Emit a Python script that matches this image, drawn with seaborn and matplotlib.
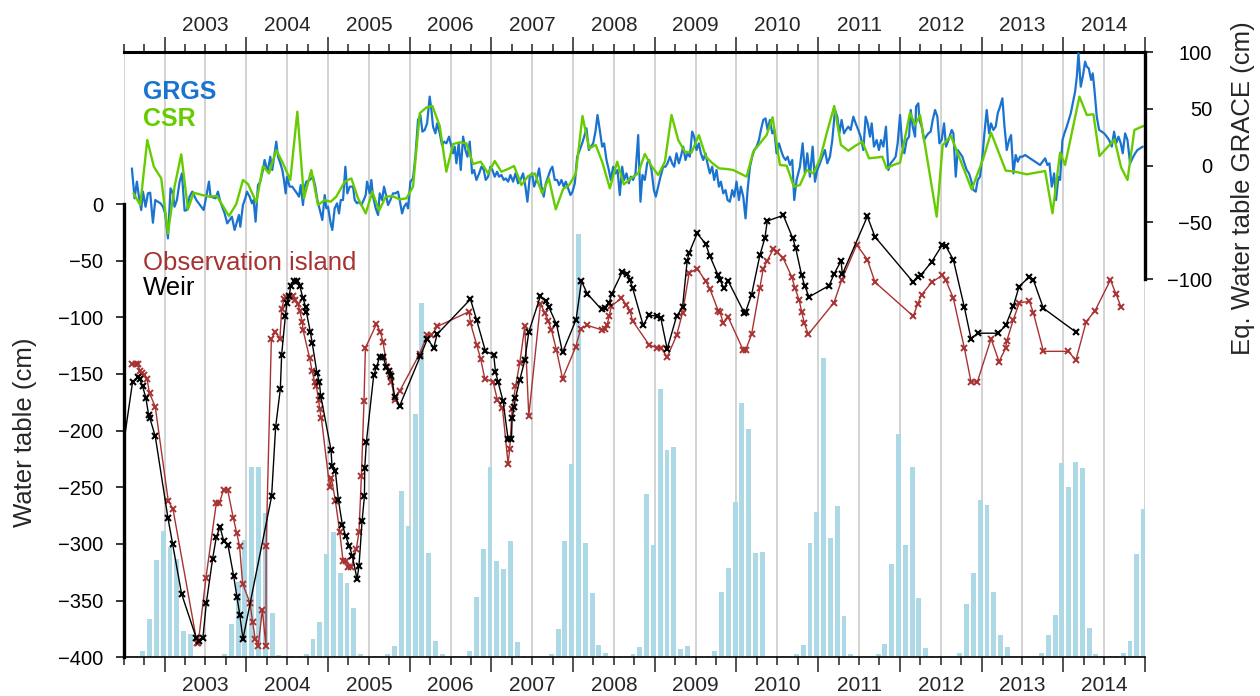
import numpy as np
import pandas as pd
import matplotlib
matplotlib.use("Agg")
import matplotlib.pyplot as plt
import matplotlib.transforms as mtransforms
from matplotlib.ticker import MultipleLocator
import seaborn as sns

sns.set_style("ticks")
plt.rcParams['font.family'] = ['Liberation Sans', 'DejaVu Sans']

# ---- monthly rainfall bars (height above the -400 baseline), Jul 2002 .. Jan 2015
rain_months = pd.date_range("2002-07-01", "2015-01-01", freq="MS")
rain_cm = [
    1, 1, 1, 5.6, 33.8, 85.9,
    111.4, 97.6, 86.7, 23.2, 20.6, 1, 1, 1, 1, 3, 29.4, 66.7,
    103.5, 168.2, 168.2, 127.6, 38.8, 2, 1, 1, 1, 2.9, 16.2, 30.9,
    91.1, 110.8, 74.1, 65.3, 43.5, 2.9, 1, 1, 1, 2.9, 10, 146.7,
    115.8, 214.7, 312.6, 91.8, 14.4, 2.9, 1, 1, 1, 5.6, 53.5, 95.6,
    167.9, 85, 77.9, 102.6, 13.5, 1, 1, 1, 1, 2.9, 24.7, 102.6,
    170.6, 373.5, 100.6, 56.5, 10.9, 3.5, 1, 1, 1, 2.9, 9.4, 144.1,
    99.1, 236.7, 182.9, 185.6, 7.3, 10, 1, 1, 1, 5.6, 57.9, 79.1,
    137, 224.4, 201.4, 92, 92.9, 1, 1, 1, 1, 2.9, 10.9, 100.9,
    128.2, 264.1, 105.3, 133.5, 36.5, 2.9, 1, 1, 1, 2.9, 11.8, 82.4,
    197, 99.1, 167.9, 52.3, 8.2, 1.5, 1, 1, 1, 3.5, 47, 74.4,
    138.8, 134.4, 57.6, 19.7, 9.1, 1.5, 1, 1, 1, 3.8, 19.7, 37.3,
    171.5, 150.3, 172.4, 167, 25.9, 2.9, 1, 1, 1, 4.1, 14.6, 91.1,
    130.8,
]

# ---- water table, Weir (black)
weir_year = [2002.45, 2002.608, 2002.669, 2002.694, 2002.731, 2002.771, 2002.804, 2002.820, 2002.886,
             2003.041, 2003.098, 2003.208, 2003.388, 2003.416, 2003.469, 2003.511, 2003.588, 2003.633,
             2003.678, 2003.723, 2003.776, 2003.845, 2003.886, 2003.922, 2003.959, 2004.310, 2004.359,
             2004.417, 2004.433, 2004.478, 2004.498, 2004.523, 2004.547, 2004.580, 2004.621, 2004.653,
             2004.694, 2004.727, 2004.735, 2004.784, 2004.808, 2004.865, 2004.894, 2004.911, 2005.037,
             2005.049, 2005.091, 2005.127, 2005.176, 2005.217, 2005.262, 2005.299, 2005.356, 2005.380,
             2005.417, 2005.446, 2005.450, 2005.470, 2005.560, 2005.593, 2005.633, 2005.674, 2005.715,
             2005.747, 2005.777, 2005.817, 2005.878, 2006.132, 2006.217, 2006.295, 2006.335, 2006.744,
             2006.818, 2006.928, 2007.029, 2007.050, 2007.082, 2007.143, 2007.204, 2007.246, 2007.254,
             2007.278, 2007.295, 2007.348, 2007.409, 2007.458, 2007.601, 2007.663, 2007.703, 2007.797,
             2007.871, 2008.037, 2008.103, 2008.172, 2008.348, 2008.389, 2008.441, 2008.475, 2008.601,
             2008.655, 2008.695, 2008.728, 2008.858, 2008.928, 2009.022, 2009.075, 2009.152, 2009.267,
             2009.340, 2009.397, 2009.421, 2009.519, 2009.622, 2009.675, 2009.776, 2009.797, 2009.846,
             2009.899, 2010.095, 2010.112, 2010.185, 2010.287, 2010.348, 2010.377, 2010.573, 2010.688,
             2010.725, 2010.798, 2010.835, 2010.888, 2011.133, 2011.194, 2011.280, 2011.296, 2011.602,
             2011.696, 2012.164, 2012.218, 2012.255, 2012.389, 2012.520, 2012.561, 2012.654, 2012.789,
             2012.871, 2012.953, 2013.206, 2013.296, 2013.389, 2013.459, 2013.586, 2013.634, 2013.757,
             2014.154]
weir_cm = [-236, -157, -153, -154, -161, -171, -186, -189, -205,
           -277, -300, -344, -383, -386, -383, -352, -313, -294,
           -285, -297, -301, -328, -347, -363, -384, -258, -197,
           -163, -133, -99, -87, -81, -72, -68, -68, -72,
           -83, -91, -95, -113, -123, -149, -157, -169, -217,
           -231, -236, -261, -283, -293, -302, -311, -331, -319,
           -280, -258, -233, -210, -151, -144, -135, -135, -144,
           -147, -152, -170, -178, -134, -119, -127, -115, -84,
           -102, -130, -133, -148, -157, -174, -207, -207, -189,
           -179, -171, -155, -138, -113, -81, -86, -91, -106,
           -131, -102, -68, -79, -93, -92, -87, -79, -60,
           -62, -67, -74, -107, -98, -99, -101, -128, -99,
           -91, -50, -43, -26, -35, -46, -63, -67, -74,
           -68, -96, -95, -80, -45, -30, -15, -10, -30,
           -39, -63, -72, -82, -72, -62, -50, -62, -11,
           -29, -69, -64, -63, -51, -36, -37, -49, -91,
           -119, -114, -114, -107, -90, -73, -64, -67, -92,
           -113]

# ---- water table, Observation island (red)
island_year = [2002.596, 2002.649, 2002.678, 2002.694, 2002.722, 2002.751, 2002.784, 2002.816, 2002.886,
               2003.045, 2003.102, 2003.396, 2003.413, 2003.506, 2003.633, 2003.670, 2003.723, 2003.771,
               2003.841, 2003.882, 2003.918, 2003.955, 2004.045, 2004.078, 2004.110, 2004.147, 2004.196,
               2004.241, 2004.243, 2004.307, 2004.356, 2004.412, 2004.433, 2004.461, 2004.482, 2004.531,
               2004.571, 2004.601, 2004.633, 2004.653, 2004.686, 2004.694, 2004.776, 2004.804, 2004.837,
               2004.858, 2004.886, 2004.898, 2004.919, 2005.021, 2005.042, 2005.091, 2005.143, 2005.184,
               2005.225, 2005.245, 2005.287, 2005.348, 2005.380, 2005.409, 2005.441, 2005.458, 2005.593,
               2005.642, 2005.674, 2005.723, 2005.756, 2005.777, 2005.817, 2005.878, 2006.123, 2006.213,
               2006.266, 2006.340, 2006.727, 2006.744, 2006.818, 2006.870, 2006.919, 2007.021, 2007.074,
               2007.136, 2007.204, 2007.225, 2007.254, 2007.295, 2007.348, 2007.409, 2007.458, 2007.601,
               2007.654, 2007.694, 2007.735, 2007.797, 2007.871, 2008.033, 2008.094, 2008.172, 2008.348,
               2008.389, 2008.417, 2008.441, 2008.470, 2008.592, 2008.653, 2008.695, 2008.728, 2008.928,
               2009.022, 2009.075, 2009.152, 2009.267, 2009.340, 2009.421, 2009.519, 2009.622, 2009.675,
               2009.776, 2009.797, 2009.838, 2009.899, 2010.083, 2010.112, 2010.185, 2010.287, 2010.328,
               2010.377, 2010.450, 2010.491, 2010.573, 2010.675, 2010.716, 2010.768, 2010.798, 2010.830,
               2010.879, 2011.194, 2011.288, 2011.472, 2011.602, 2011.696, 2012.164, 2012.218, 2012.267,
               2012.390, 2012.520, 2012.561, 2012.654, 2012.789, 2012.871, 2012.948, 2013.116, 2013.214,
               2013.296, 2013.308, 2013.389, 2013.463, 2013.586, 2013.634, 2013.757, 2014.063, 2014.154,
               2014.280, 2014.390, 2014.578, 2014.643, 2014.708]
island_cm = [-141, -141, -141, -147, -149, -151, -154, -167, -179,
             -262, -269, -387, -387, -330, -264, -264, -252, -252,
             -277, -290, -302, -335, -352, -369, -384, -390, -358,
             -390, -302, -119, -113, -119, -93, -84, -82, -82,
             -81, -85, -88, -94, -104, -111, -136, -147, -157,
             -161, -173, -181, -189, -250, -242, -262, -289, -315,
             -315, -320, -320, -304, -289, -240, -174, -127, -106,
             -113, -122, -144, -150, -157, -173, -165, -132, -116,
             -116, -108, -95, -105, -124, -137, -154, -157, -173,
             -180, -229, -216, -181, -161, -140, -108, -187, -88,
             -96, -103, -111, -129, -154, -126, -110, -107, -111,
             -110, -107, -99, -90, -83, -89, -94, -103, -124,
             -127, -127, -135, -116, -96, -61, -57, -68, -75,
             -94, -95, -105, -100, -129, -129, -115, -74, -57,
             -50, -40, -42, -48, -64, -74, -85, -95, -105,
             -115, -87, -67, -36, -49, -69, -99, -88, -80,
             -69, -63, -67, -83, -127, -157, -157, -119, -139,
             -127, -121, -102, -87, -86, -96, -130, -130, -138,
             -104, -94, -67, -79, -91]

# ---- GRACE equivalent water table (right axis), GRGS 10-day solutions
grgs_year = [2002.600, 2002.633, 2002.661, 2002.686, 2002.714, 2002.735, 2002.767, 2002.796, 2002.824, 2002.857,
             2002.886, 2002.918, 2002.951, 2002.980, 2003.008, 2003.041, 2003.073, 2003.102, 2003.122, 2003.151,
             2003.184, 2003.212, 2003.245, 2003.273, 2003.306, 2003.339, 2003.388, 2003.449, 2003.478, 2003.510,
             2003.543, 2003.563, 2003.624, 2003.653, 2003.682, 2003.735, 2003.767, 2003.796, 2003.824, 2003.857,
             2003.886, 2003.910, 2003.927, 2003.959, 2003.988, 2004.008, 2004.041, 2004.069, 2004.090, 2004.114,
             2004.143, 2004.171, 2004.204, 2004.224, 2004.245, 2004.265, 2004.294, 2004.318, 2004.347, 2004.367,
             2004.388, 2004.417, 2004.441, 2004.461, 2004.482, 2004.498, 2004.531, 2004.563, 2004.592, 2004.620,
             2004.645, 2004.666, 2004.694, 2004.714, 2004.735, 2004.776, 2004.817, 2004.845, 2004.870, 2004.890,
             2004.931, 2004.960, 2004.980, 2005.000, 2005.033, 2005.053, 2005.082, 2005.111, 2005.135, 2005.156,
             2005.184, 2005.213, 2005.237, 2005.266, 2005.307, 2005.327, 2005.356, 2005.380, 2005.409, 2005.437,
             2005.462, 2005.478, 2005.511, 2005.531, 2005.552, 2005.584, 2005.613, 2005.633, 2005.662, 2005.686,
             2005.715, 2005.735, 2005.764, 2005.796, 2005.825, 2005.857, 2005.878, 2005.907, 2005.931, 2005.960,
             2005.980, 2006.009, 2006.041, 2006.070, 2006.102, 2006.131, 2006.156, 2006.184, 2006.213, 2006.245,
             2006.266, 2006.286, 2006.315, 2006.335, 2006.368, 2006.396, 2006.421, 2006.449, 2006.482, 2006.502,
             2006.531, 2006.551, 2006.572, 2006.600, 2006.625, 2006.654, 2006.682, 2006.707, 2006.735, 2006.764,
             2006.788, 2006.817, 2006.850, 2006.878, 2006.907, 2006.931, 2006.960, 2006.988, 2007.013, 2007.041,
             2007.070, 2007.094, 2007.123, 2007.151, 2007.176, 2007.205, 2007.233, 2007.266, 2007.294, 2007.327,
             2007.356, 2007.388, 2007.417, 2007.441, 2007.470, 2007.498, 2007.523, 2007.552, 2007.584, 2007.613,
             2007.641, 2007.666, 2007.694, 2007.723, 2007.747, 2007.776, 2007.805, 2007.829, 2007.858, 2007.886,
             2007.911, 2007.940, 2007.968, 2007.993, 2008.021, 2008.050, 2008.082, 2008.111, 2008.136, 2008.164,
             2008.193, 2008.217, 2008.246, 2008.274, 2008.299, 2008.327, 2008.356, 2008.380, 2008.409, 2008.438,
             2008.462, 2008.491, 2008.519, 2008.544, 2008.572, 2008.601, 2008.625, 2008.654, 2008.682, 2008.707,
             2008.735, 2008.764, 2008.797, 2008.825, 2008.849, 2008.878, 2008.907, 2008.931, 2008.960, 2008.989,
             2009.013, 2009.042, 2009.070, 2009.103, 2009.132, 2009.156, 2009.185, 2009.213, 2009.238, 2009.266,
             2009.295, 2009.319, 2009.348, 2009.376, 2009.401, 2009.429, 2009.458, 2009.482, 2009.511, 2009.539,
             2009.564, 2009.593, 2009.621, 2009.645, 2009.674, 2009.703, 2009.727, 2009.756, 2009.785, 2009.809,
             2009.838, 2009.866, 2009.891, 2009.919, 2009.948, 2009.972, 2010.001, 2010.030, 2010.054, 2010.083,
             2010.111, 2010.136, 2010.165, 2010.193, 2010.218, 2010.246, 2010.275, 2010.299, 2010.328, 2010.356,
             2010.381, 2010.409, 2010.438, 2010.462, 2010.491, 2010.520, 2010.544, 2010.573, 2010.601, 2010.626,
             2010.654, 2010.683, 2010.707, 2010.736, 2010.777, 2010.810, 2010.838, 2010.867, 2010.899, 2010.932,
             2010.961, 2010.989, 2011.022, 2011.051, 2011.083, 2011.112, 2011.144, 2011.173, 2011.206, 2011.234,
             2011.259, 2011.287, 2011.316, 2011.340, 2011.369, 2011.398, 2011.430, 2011.459, 2011.491, 2011.520,
             2011.553, 2011.581, 2011.606, 2011.634, 2011.655, 2011.683, 2011.716, 2011.744, 2011.769, 2011.798,
             2011.830, 2011.859, 2011.887, 2011.920, 2011.948, 2011.973, 2012.002, 2012.030, 2012.055, 2012.083,
             2012.112, 2012.133, 2012.157, 2012.186, 2012.198, 2012.226, 2012.239, 2012.267, 2012.296, 2012.320,
             2012.349, 2012.377, 2012.402, 2012.431, 2012.459, 2012.484, 2012.512, 2012.541, 2012.565, 2012.594,
             2012.635, 2012.655, 2012.684, 2012.708, 2012.737, 2012.765, 2012.790, 2012.818, 2012.847, 2012.871,
             2012.900, 2012.929, 2012.953, 2012.981, 2013.010, 2013.035, 2013.063, 2013.092, 2013.116, 2013.145,
             2013.173, 2013.198, 2013.226, 2013.255, 2013.279, 2013.308, 2013.337, 2013.361, 2013.390, 2013.418,
             2013.443, 2013.471, 2013.500, 2013.533, 2013.594, 2013.655, 2013.716, 2013.778, 2013.806, 2013.831,
             2013.859, 2013.888, 2013.912, 2013.941, 2013.961, 2013.990, 2014.014, 2014.043, 2014.092, 2014.145,
             2014.166, 2014.186, 2014.214, 2014.239, 2014.267, 2014.288, 2014.312, 2014.341, 2014.361, 2014.382,
             2014.410, 2014.439, 2014.472, 2014.500, 2014.533, 2014.561, 2014.594, 2014.622, 2014.647, 2014.676,
             2014.704, 2014.728, 2014.757, 2014.786, 2014.818, 2014.847, 2014.880, 2014.908, 2014.941, 2014.973]
grgs_cm = [-2.4, -28.8, -14.1, -27.3, -39.1, -22.9, -36.2, -24.4, -23.8, -50.3,
           -30.3, -31.8, -33.2, -36.2, -42.1, -64.1, -20, -24.4, -36.2, -30.3,
           -14.1, -6.8, -39.7, -39.1, -27.3, -22.9, -30.3, -36.2, -39.1, -27.3,
           -14.1, -27.3, -28.8, -22.9, -31.8, -42.1, -50.9, -47.9, -45, -56.7,
           -49.4, -43.5, -53.8, -34.7, -28.8, -22.9, -27.3, -33.2, -30.3, -49.4,
           -17.1, -14.1, -3.8, 5, -0.9, -3.8, 7.9, -3.8, 10.9, 21.2,
           7.9, 2.1, -3.8, -12.6, -24.4, -9.7, -18.5, -18.5, -21.5, -24.4,
           -27.3, -17.1, -34.7, -18.5, -14.1, -12.6, -9.7, -18.5, -30.3, -36.2,
           -47.9, -25.9, -37.6, -36.2, -50.9, -56.7, -37.6, -33.2, -42.1, -30.3,
           -30.3, -0.9, -24.4, -18.5, -18.5, -30.3, -33.2, -31.8, -34.7, -30.3,
           -25.9, -14.1, -24.4, -12.6, -27.3, -37.6, -43.5, -24.4, -30.3, -18.5,
           -27.3, -34.7, -30.3, -24.4, -24.4, -22.9, -30.3, -42.1, -36.2, -33.2,
           -37.6, -14.1, -11.2, 7.9, 40.3, 44.7, 30, 31.5, 37.3, 60.9,
           49.1, 34.4, 28.5, 37.3, 28.5, 18.2, 21.2, 19.7, 25.6, 19.7,
           10.9, 16.8, 2.1, 19.7, -3.8, 25.6, 13.8, 7.9, 21.2, -6.8,
           -3.8, -12.6, -6.8, -0.9, -3.8, -12.6, -9.7, -0.9, -3.8, -9.7,
           -5.3, -9.7, -8.2, -12.6, -11.2, -14.1, -8.2, -14.1, -6.8, -15.6,
           -12.6, -6.8, -18.5, -31.8, -9.7, -6.8, -18.5, -12.6, -2.4, -18.5,
           -27.3, -15.6, -9.7, -3.8, -0.9, -12.6, -12.6, -17.1, -12.6, -18.5,
           -14.1, -20, -25.9, -22.9, -15.6, 7.9, 13.8, 19.7, 25.6, 32.9,
           13.8, 16.8, 19.7, 30, 44.7, 31.5, 16.8, 19.7, 5, -3.8,
           -12.6, -0.9, -6.8, -3.8, -25.9, -0.9, -12.6, -6.8, -15.6, -9.7,
           -12.6, -6.8, 27, -31.8, -8.2, -12.6, 2.1, 5, -3.8, -21.5,
           -27.3, -18.5, -9.7, -0.9, -0.9, 2.1, 7.9, 2.1, -0.9, 10.9,
           2.1, 7.9, 16.8, 5, 10.9, 7.9, 30, 25.6, 13.8, 19.7,
           10.9, 5, 10.9, 2.1, -6.8, -0.9, -12.6, -3.8, -18.5, -14.1,
           -24.4, -21.5, -30.3, -31.8, -21.5, -27.3, -14.1, -30.3, -18.5, -27.3,
           -46.5, -21.5, -0.9, 7.9, 13.8, 16.8, 22.6, 31.5, 40.3, 41.7,
           31.5, 40.3, 28.5, 31.5, 10.9, 19.7, 13.8, 7.9, 5, 7.9,
           0.6, 5, -30.3, -12.6, -0.9, 19.7, -6.8, 10.9, -9.7, 16.8,
           -14.1, -3.8, 2.1, 7.9, 13.8, 2.1, 7.9, 22.6, 49.1, 43.2,
           28.5, 40.3, 28.5, 31.5, 34.4, 31.5, 43.2, 37.3, 31.5, 25.6,
           13.8, 43.2, 37.3, 25.6, 37.3, 16.8, 22.6, 13.8, 22.6, 16.8,
           34.4, -3.8, 2.1, 5, 7.9, 19.7, 44.7, 16.8, 10.9, 22.6,
           25.6, 49.1, 34.4, 25.6, 52, 55, 40.3, 34.4, 22.6, 25.6,
           28.5, 30, 40.3, 49.1, 43.2, 19.7, 22.6, 37.3, 16.8, 22.6,
           31.5, 28.5, -9.7, 13.8, 10.9, 7.9, 2.1, -3.8, -6.8, -12.6,
           -21.5, -22.9, -12.6, -9.7, 7.9, 28.5, 49.1, 28.5, 37.3, 31.5,
           34.4, 46.2, 52, 59.4, 35.9, 13.8, 22.6, 27, -6.8, 9.4,
           3.5, 7.9, 7.9, 9.4, 6.5, 3.5, 0.6, 6.5, 0.6, 2.1,
           -18.5, -6.8, -30.3, -9.7, -12.6, 22.6, 28.5, 34.4, 46.2, 65.3,
           78.5, 99.1, 69.7, 78.5, 91.7, 87.3, 85.8, 75.6, 81.4, 66.7,
           43.2, 31.5, 30, 28.5, 25.6, 22.6, 16.8, 30, 19.7, 25.6,
           19.7, 10.9, 28.5, 22.6, 2.1, 6.5, 10.9, 13.8, 15.3, 16.8]

# ---- GRACE CSR monthly solutions
csr_year = [2002.620, 2002.702, 2002.788, 2002.869, 2002.959, 2003.041, 2003.122, 2003.204, 2003.286, 2003.355,
            2003.461, 2003.551, 2003.641, 2003.788, 2003.878, 2003.959, 2004.021, 2004.123, 2004.204, 2004.278,
            2004.367, 2004.449, 2004.539, 2004.625, 2004.706, 2004.796, 2004.878, 2004.960, 2005.033, 2005.102,
            2005.204, 2005.286, 2005.368, 2005.462, 2005.543, 2005.625, 2005.707, 2005.788, 2005.878, 2005.960,
            2006.041, 2006.123, 2006.205, 2006.278, 2006.368, 2006.449, 2006.531, 2006.613, 2006.694, 2006.776,
            2006.870, 2006.960, 2007.041, 2007.123, 2007.205, 2007.278, 2007.368, 2007.450, 2007.531, 2007.621,
            2007.703, 2007.788, 2007.878, 2007.952, 2008.034, 2008.115, 2008.197, 2008.278, 2008.360, 2008.450,
            2008.540, 2008.621, 2008.707, 2008.797, 2008.878, 2008.960, 2009.042, 2009.124, 2009.205, 2009.287,
            2009.368, 2009.450, 2009.540, 2009.626, 2009.707, 2009.789, 2009.879, 2009.960, 2010.042, 2010.124,
            2010.205, 2010.287, 2010.369, 2010.442, 2010.532, 2010.614, 2010.703, 2010.777, 2010.859, 2010.940,
            2011.022, 2011.104, 2011.197, 2011.279, 2011.369, 2011.451, 2011.540, 2011.622, 2011.704, 2011.785,
            2011.838, 2011.920, 2012.002, 2012.124, 2012.186, 2012.247, 2012.451, 2012.524, 2012.626, 2012.879,
            2013.022, 2013.116, 2013.296, 2013.390, 2013.553, 2013.778, 2013.868, 2013.961, 2014.022, 2014.198,
            2014.288, 2014.369, 2014.443, 2014.627, 2014.708, 2014.786, 2014.871, 2014.961, 2015.0]
csr_cm = [-24.4, -34.7, 22.6, -0.9, -11.2, -59.7, -18.5, 10, -38.5, -23.8,
          -25.9, -27.3, -26.8, -44.4, -33.8, -12.6, -16.2, -32.3, -0.3, -6.8,
          13.8, 2.1, -12.6, 47.6, -28.8, -3.8, -34.7, -30.3, -31.8, -27.3,
          -14.1, -11.2, -28.8, -42.1, -22.9, -39.7, -27.3, -26.8, -29.7, -28.8,
          -18.5, 46.2, 51.4, 52.6, 35, -5.3, 19.1, 20.6, 19.7, 1.5,
          3.5, -6.8, 4.1, -5.3, -2.9, -0.3, -17.1, -9.1, -6.8, -24.4,
          -11.2, -38.5, -20.6, -17.1, -6.8, 43.8, 15.3, 18.2, 2.6, -20,
          3.5, -16.5, -11.2, -6.8, 10.3, -0.3, -8.2, 3.5, 44.7, 22.6,
          12.3, 11.5, 27, 7.9, 2.1, -2.4, -2.9, -3.8, -6.8, -9.7,
          12.3, 19.7, 27, 42.6, 0.6, 0, -18.5, -17.1, -3.8, -6.8,
          5.6, 28.5, 52.6, 18.2, 13.2, 17.3, 21.2, 6.5, 7.1, 7.9,
          -2.4, 0.6, 2.6, 46.7, 35.9, 44.7, -45, 18.2, 26.2, -20.9,
          6.5, 29.1, -4.4, -5, -7.6, -4.7, -42, 11.5, 0.6, 60.9,
          44.7, 45.3, 8.5, 23.2, -1.5, -12.6, 31.5, 34.4, 35.3]

year_labels = list(range(2003, 2015))

BLUE = "#1a73cf"
GREEN = "#66cc00"
RED = "#a83232"
BAR = "#add8e6"

fig = plt.figure(figsize=(12.6, 6.96), dpi=100)
ax = fig.add_axes([0.0982, 0.0556, 0.8105, 0.8693])
ax2 = ax.twinx()
ax2.patch.set_visible(False)

# half-year grid
for gx in np.arange(2002.5, 2015.01, 0.5):
    ax.axvline(gx, color="#c8c8c8", lw=1.1, zorder=0)

rain_x = rain_months.year + (rain_months.month - 1) / 12 - 0.017
ax.bar(rain_x, rain_cm, width=0.06, bottom=-400, color=BAR, zorder=1, linewidth=0)

sns.lineplot(x=island_year, y=island_cm, ax=ax, color=RED, lw=1.0, marker="x", ms=5,
             mew=1.4, mec=RED, sort=False, estimator=None, zorder=3)
sns.lineplot(x=weir_year, y=weir_cm, ax=ax, color="black", lw=1.0, marker="x", ms=5,
             mew=1.5, mec="black", sort=False, estimator=None, zorder=4)

sns.lineplot(x=grgs_year, y=grgs_cm, ax=ax2, color=BLUE, lw=1.6, sort=False, estimator=None)
sns.lineplot(x=csr_year, y=csr_cm, ax=ax2, color=GREEN, lw=1.7, sort=False, estimator=None)

ax.set_xlim(2002.5, 2015.0)
ax.set_ylim(-400, 133.9)
ax2.set_ylim(-433.5, 100)

# x ticks: long at whole years, short every quarter, top and bottom
ax.xaxis.set_major_locator(MultipleLocator(1))
ax.xaxis.set_minor_locator(MultipleLocator(0.25))
ax.tick_params(axis="x", which="major", length=11, width=1.1, color="#222222",
               top=True, bottom=True, labeltop=False, labelbottom=False, direction="out")
ax.tick_params(axis="x", which="minor", length=6, width=1.1, color="#222222",
               top=True, bottom=True, direction="out")

ax.set_yticks(np.arange(-400, 1, 50))
ax.tick_params(axis="y", length=6, width=1.1, pad=9, labelsize=14.5, color="black", labelcolor="black")
ax2.set_yticks([-100, -50, 0, 50, 100])
ax2.tick_params(axis="y", length=5.5, width=1.1, pad=43, labelsize=14.5, color="black", labelcolor="black")
plt.setp(ax2.get_yticklabels(), ha="right")
ax.set_xlabel("")
ax.set_ylabel("")
ax2.set_ylabel("")

# spines
ax.spines["right"].set_visible(False)
ax.spines["left"].set_bounds(-400, 0)
ax.spines["left"].set_linewidth(2.4)
ax.spines["left"].set_color("black")
ax.spines["top"].set_linewidth(2.2)
ax.spines["top"].set_color("black")
ax.spines["bottom"].set_linewidth(1.2)
ax.spines["bottom"].set_color("black")
for s in ["top", "bottom", "left"]:
    ax2.spines[s].set_visible(False)
ax2.spines["right"].set_bounds(-100, 100)
ax2.spines["right"].set_linewidth(2.4)
ax2.spines["right"].set_color("black")

# year labels centred in each year, above and below
trans = mtransforms.blended_transform_factory(ax.transData, ax.transAxes)
for yr in year_labels:
    ax.text(yr + 0.5, 1.0357, str(yr), transform=trans, ha="center", va="baseline", fontsize=15)
    ax.text(yr + 0.5, -0.0562, str(yr), transform=trans, ha="center", va="baseline", fontsize=15)

# in-plot legends
ax.text(0.019, 0.9223, "GRGS", transform=ax.transAxes, color=BLUE, fontsize=18, fontweight="bold")
ax.text(0.019, 0.8782, "CSR", transform=ax.transAxes, color=GREEN, fontsize=18, fontweight="bold")
ax.text(0.019, 0.6402, "Observation island", transform=ax.transAxes, color=RED, fontsize=18.5)
ax.text(0.019, 0.5988, "Weir", transform=ax.transAxes, color="black", fontsize=18.5)

fig.text(25 / 1260, 1 - 432 / 696, "Water table (cm)", rotation=90, ha="center", va="center", fontsize=18.5)
fig.text(1243 / 1260, 1 - 188 / 696, "Eq. Water table GRACE (cm)", rotation=90, ha="center", va="center",
         fontsize=18.5)

fig.savefig("out.png", dpi=100)
